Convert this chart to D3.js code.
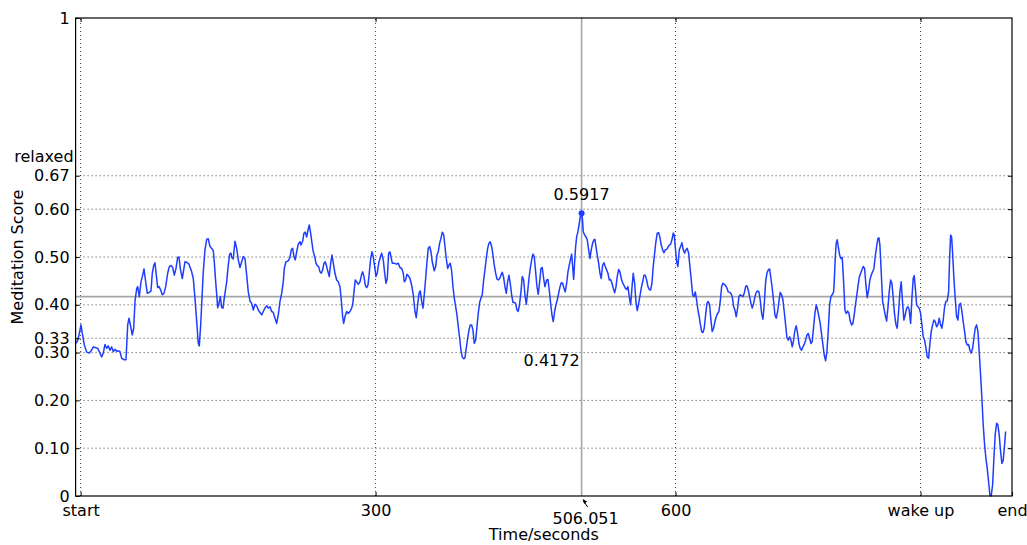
<!DOCTYPE html>
<html>
<head>
<meta charset="utf-8">
<script src="https://cdn.jsdelivr.net/npm/d3@7"></script>
<style>
  html, body { margin: 0; padding: 0; background: #fff; }
  svg { display: block; font-family: "DejaVu Sans", sans-serif; }
  text { fill: #000; }
</style>
</head>
<body>
<svg id="chart" width="1027" height="545"></svg>
<script>
// Meditation score over one session (seconds since start)
const seconds = [
  0.4, 2.1, 3.4, 5.4, 6.7, 8.7, 11.1, 13.4, 15.4, 17.7, 20.1, 22.1, 24.4, 26.1, 27.7, 29.4,
  31.1, 32.7, 34.4, 36.1, 37.7, 39.4, 41.1, 42.7, 44.4, 46.1, 48.7, 50.4, 52.1, 53.4, 55.4,
  56.7, 58.1, 59.4, 61.1, 62.1, 63.7, 65.4, 67.1, 68.4, 70.1, 71.7, 73.7, 75.4, 76.7, 78.1,
  79.4, 80.7, 82.1, 83.4, 84.7, 86.7, 88.4, 90.1, 92.1, 93.7, 95.4, 97.1, 98.7, 100.4, 102.1,
  103.4, 104.7, 106.7, 108.1, 109.4, 111.1, 113.4, 116.1, 117.7, 119.4, 121.1, 122.7, 123.7,
  125.1, 126.4, 127.7, 129.4, 131.1, 132.7, 134.4, 136.1, 137.7, 138.7, 140.1, 141.4, 142.1,
  143.4, 144.7, 146.1, 147.4, 148.7, 151.1, 152.7, 154.1, 155.4,
  156.1, 157.7, 159.4, 161.1, 162.7, 164.4, 166.1, 167.7, 169.4, 171.1, 172.7, 174.4, 176.1,
  177.7, 179.4, 181.1, 182.7, 184.4, 186.1, 187.7, 189.4, 191.1, 192.7, 194.4, 196.1, 197.7,
  199.4, 201.1, 202.7, 204.4, 206.1, 207.7, 208.7, 210.4, 212.7, 214.4, 215.7, 217.1, 218.4,
  219.7, 221.1, 222.7, 224.4, 225.4, 227.1, 228.4, 229.7, 231.1, 232.4, 233.7, 235.1, 236.4,
  237.7, 239.1, 240.4, 241.7, 243.1, 244.4, 245.7, 247.1, 248.4, 249.7, 251.1, 252.4, 253.7,
  255.1, 256.4, 257.7, 259.4, 261.1, 262.7, 264.4, 265.7, 267.1, 268.1, 269.4, 271.1, 272.7,
  274.4, 276.1, 277.1, 278.4, 279.7, 281.1, 282.7, 284.4, 286.1, 287.1, 288.4, 289.7, 291.1,
  292.4, 293.7, 295.1, 296.4, 297.7, 299.1, 300.4, 301.7, 303.1, 304.4, 306.1, 307.7, 309.1,
  310.4, 311.7, 313.1, 314.4,
  316.7, 318.7, 321.1, 322.7, 324.4, 326.1, 327.7, 328.7, 330.1, 331.4, 332.7, 334.4, 336.1,
  337.7, 339.4, 340.7, 342.1, 343.4, 344.7, 346.1, 347.4, 348.7, 350.1, 351.4, 352.7, 354.1,
  355.4, 356.7, 358.7, 360.1, 361.4, 362.7, 364.1, 365.4, 366.7, 368.1, 369.4, 370.7, 372.1,
  373.4, 374.7, 376.1, 377.4, 378.7, 380.1, 381.4, 382.7, 384.1, 385.4, 386.7, 388.1, 389.4,
  390.7, 392.1, 393.4, 394.7, 396.1, 397.4, 398.7, 400.1, 401.4, 402.7, 404.1, 405.4, 406.7,
  408.1, 409.4, 410.7, 412.1, 413.4, 414.7, 416.1, 417.4, 418.7, 420.1, 421.4, 422.7, 424.1,
  425.4, 426.7, 428.1, 429.4, 430.7, 432.1, 433.4, 434.7, 436.1, 437.4, 438.7, 440.1, 441.4,
  442.7, 444.1, 445.4, 446.7, 448.1, 449.4, 450.7, 452.1, 453.4, 454.7, 456.1, 457.4, 458.7,
  460.1, 461.4, 462.7, 464.1, 465.4, 466.7, 468.1, 469.4,
  471.1, 472.4, 473.7, 475.1, 476.4, 477.7, 479.1, 480.4, 481.7, 483.1, 484.4, 485.7, 487.1,
  488.4, 489.7, 491.1, 492.4, 493.7, 495.1, 496.1, 497.1, 498.1, 499.1, 500.1, 501.1, 502.4,
  503.7, 504.7, 506.051, 507.0, 507.7, 509.1, 510.4, 511.7, 513.1, 514.4, 515.7, 517.1, 518.4,
  519.4, 520.4, 521.7, 523.1, 524.4, 525.7, 527.1, 528.4, 529.7, 531.1, 532.4, 533.7, 535.1,
  536.4, 537.7, 539.1, 540.4, 541.7, 543.1, 544.4, 545.7, 547.1, 548.4, 549.7, 551.1, 552.4,
  553.7, 555.1, 556.4, 557.7, 559.1, 560.4, 561.7, 563.1, 564.4, 565.7, 567.1, 568.4, 569.7,
  571.1, 572.4, 573.7, 575.1, 576.4, 577.7, 579.1, 580.4, 581.7, 583.1, 584.4, 585.7, 587.1,
  588.4, 589.7, 591.1, 592.4, 593.7, 595.1, 596.4, 597.7, 598.7, 599.7, 601.1, 602.4, 603.7,
  605.1, 606.4, 607.7, 609.1, 610.4, 611.7, 613.1, 614.4, 615.7, 617.1, 618.4, 619.7, 621.1,
  622.4, 623.7, 624.4,
  624.7, 626.1, 627.4, 628.7, 630.1, 631.4, 632.7, 634.1, 635.4, 636.7, 638.1, 639.4, 640.7,
  642.1, 643.4, 644.7, 646.1, 647.4, 648.7, 650.1, 651.4, 652.7, 654.1, 655.4, 656.7, 658.1,
  659.4, 660.7, 662.1, 663.4, 664.7, 666.1, 667.4, 668.7, 670.1, 671.4, 672.7, 674.1, 675.4,
  676.7, 678.1, 679.4, 680.7, 682.1, 683.4, 684.7, 686.1, 687.4, 688.7, 690.1, 691.4, 692.7,
  694.1, 695.4, 696.7, 698.1, 699.4, 700.7, 702.1, 703.4, 704.7, 706.1, 707.4, 708.7, 710.1,
  711.4, 712.7, 714.1, 715.4, 716.7, 718.1, 719.4, 720.7, 722.1, 723.4, 724.7, 726.1, 727.4,
  728.7, 730.1, 731.4, 732.7, 734.1, 735.4, 736.7, 738.1, 739.4, 740.7, 742.1, 743.4, 744.7,
  746.1, 747.4, 748.7, 750.1, 751.4, 752.7, 754.1, 755.4, 756.7, 758.1, 758.7, 759.7, 760.7,
  761.7, 762.7, 764.1, 765.4, 766.7, 768.1, 769.4, 770.7, 772.1, 773.4, 774.7, 776.1, 777.4,
  778.7,
  779.7, 781.1, 782.4, 783.7, 785.1, 786.4, 787.7, 789.1, 790.4, 791.7, 793.1, 794.4, 795.7,
  797.1, 798.4, 799.7, 801.1, 802.4, 803.4, 804.4, 805.7, 807.1, 808.4, 809.7, 811.1, 812.4,
  813.7, 815.1, 816.4, 817.7, 819.1, 820.4, 821.7, 823.1, 824.4, 825.7, 827.1, 828.4, 829.7,
  831.1, 832.4, 833.7, 835.1, 836.4, 837.7, 838.7, 839.7, 841.1, 842.4, 843.7, 845.1, 846.4,
  847.7, 849.1, 850.4, 851.7, 853.1, 854.4, 855.7, 857.1, 858.4, 859.7, 861.1, 862.4, 863.7,
  865.1, 866.4, 867.7, 869.1, 870.4, 871.7, 873.1, 874.1, 875.1, 876.1, 877.1, 878.4, 879.7,
  881.1, 882.4, 883.7, 885.1, 886.4, 887.7, 889.1, 890.4, 891.7, 893.1, 894.4, 895.7, 897.1,
  898.4, 899.7, 901.1, 902.4, 903.7, 905.1, 906.4, 907.7, 909.1, 910.4, 911.7, 913.1, 914.4,
  915.7, 917.1, 918.4, 919.7, 921.1, 922.4, 923.7, 925.1, 926.4, 927.7, 929.1, 930.1
];

const meditation = [
  0.319, 0.326, 0.337, 0.358, 0.340, 0.316, 0.301, 0.299, 0.303, 0.312, 0.310, 0.309, 0.299, 0.291, 0.299, 0.317,
  0.309, 0.314, 0.305, 0.312, 0.302, 0.307, 0.303, 0.304, 0.302, 0.288, 0.285, 0.285, 0.358, 0.372, 0.351,
  0.337, 0.351, 0.407, 0.434, 0.438, 0.417, 0.448, 0.462, 0.475, 0.448, 0.424, 0.426, 0.429, 0.466, 0.482,
  0.488, 0.462, 0.436, 0.438, 0.433, 0.421, 0.424, 0.438, 0.466, 0.480, 0.482, 0.478, 0.462, 0.476, 0.499,
  0.500, 0.476, 0.455, 0.473, 0.490, 0.489, 0.485, 0.469, 0.455, 0.414, 0.365, 0.319, 0.314,
  0.358, 0.414, 0.469, 0.515, 0.537, 0.538, 0.522, 0.518, 0.513, 0.490, 0.448, 0.414, 0.394,
  0.403, 0.417, 0.394, 0.393, 0.414, 0.448, 0.483, 0.506, 0.508,
  0.499, 0.496, 0.533, 0.518, 0.494, 0.478, 0.490, 0.501, 0.497, 0.462, 0.427, 0.408, 0.403,
  0.389, 0.401, 0.398, 0.389, 0.384, 0.379, 0.386, 0.393, 0.398, 0.393, 0.396, 0.386, 0.384,
  0.372, 0.361, 0.379, 0.407, 0.424, 0.448, 0.476, 0.490, 0.492, 0.499, 0.515, 0.518, 0.501,
  0.494, 0.511, 0.527, 0.532, 0.525, 0.533, 0.550, 0.552, 0.542, 0.556, 0.567, 0.550, 0.529,
  0.511, 0.501, 0.487, 0.482, 0.480, 0.469, 0.466, 0.473, 0.487, 0.490, 0.480, 0.469, 0.459,
  0.487, 0.504, 0.487, 0.466, 0.452, 0.448, 0.438, 0.410, 0.375, 0.361, 0.375, 0.386, 0.382,
  0.386, 0.393, 0.400, 0.427, 0.452, 0.448, 0.443, 0.448, 0.464, 0.469, 0.459, 0.441, 0.436,
  0.441, 0.466, 0.497, 0.511, 0.501, 0.480, 0.459, 0.466, 0.487, 0.497, 0.508, 0.494, 0.466,
  0.445, 0.455, 0.508, 0.511,
  0.487, 0.487, 0.485, 0.487, 0.478, 0.476, 0.466, 0.448, 0.452, 0.464, 0.461, 0.455, 0.441,
  0.421, 0.386, 0.373, 0.400, 0.424, 0.429, 0.407, 0.393, 0.421, 0.455, 0.490, 0.518, 0.522,
  0.511, 0.490, 0.471, 0.480, 0.504, 0.511, 0.529, 0.539, 0.552, 0.547, 0.522, 0.497, 0.476,
  0.483, 0.487, 0.471, 0.438, 0.414, 0.396, 0.379, 0.354, 0.330, 0.305, 0.291, 0.287, 0.289,
  0.309, 0.330, 0.347, 0.358, 0.358, 0.347, 0.319, 0.326, 0.354, 0.382, 0.405, 0.414, 0.421,
  0.452, 0.473, 0.497, 0.518, 0.529, 0.532, 0.522, 0.504, 0.483, 0.466, 0.454, 0.452, 0.455,
  0.462, 0.468, 0.457, 0.438, 0.424, 0.448, 0.462, 0.445, 0.421, 0.405, 0.405, 0.403, 0.389,
  0.386, 0.403, 0.427, 0.459, 0.452, 0.421, 0.401, 0.427, 0.455, 0.476, 0.494, 0.506, 0.501,
  0.469, 0.438, 0.422, 0.448, 0.476, 0.478, 0.455, 0.438,
  0.452, 0.453, 0.431, 0.403, 0.379, 0.365, 0.386, 0.400, 0.410, 0.424, 0.437, 0.446, 0.445,
  0.435, 0.427, 0.445, 0.469, 0.483, 0.497, 0.506, 0.480, 0.453, 0.490, 0.522, 0.542, 0.553,
  0.570, 0.584, 0.5917, 0.577, 0.553, 0.546, 0.542, 0.536, 0.515, 0.497, 0.515, 0.529, 0.536,
  0.537, 0.522, 0.504, 0.487, 0.466, 0.455, 0.483, 0.488, 0.480, 0.473, 0.466, 0.452, 0.453,
  0.445, 0.435, 0.425, 0.437, 0.459, 0.474, 0.469, 0.455, 0.446, 0.441, 0.435, 0.432, 0.438,
  0.417, 0.400, 0.435, 0.466, 0.445, 0.406, 0.388, 0.403, 0.418, 0.435, 0.448, 0.462, 0.462,
  0.452, 0.438, 0.432, 0.431, 0.445, 0.480, 0.508, 0.532, 0.550, 0.551, 0.541, 0.525, 0.515,
  0.509, 0.515, 0.516, 0.520, 0.525, 0.527, 0.536, 0.550, 0.546, 0.522, 0.490, 0.480, 0.515,
  0.522, 0.530, 0.515, 0.508, 0.515, 0.518, 0.508, 0.480, 0.452, 0.421, 0.417, 0.427, 0.410,
  0.389, 0.375, 0.365,
  0.361, 0.344, 0.342, 0.351, 0.379, 0.403, 0.407, 0.400, 0.368, 0.344, 0.351, 0.365, 0.375,
  0.382, 0.386, 0.407, 0.438, 0.445, 0.443, 0.440, 0.435, 0.427, 0.426, 0.424, 0.417, 0.396,
  0.389, 0.375, 0.393, 0.417, 0.421, 0.419, 0.417, 0.424, 0.438, 0.440, 0.431, 0.417, 0.403,
  0.393, 0.403, 0.417, 0.426, 0.429, 0.427, 0.410, 0.382, 0.370, 0.400, 0.448, 0.466, 0.473,
  0.475, 0.455, 0.435, 0.407, 0.379, 0.372, 0.386, 0.407, 0.426, 0.421, 0.410, 0.386, 0.358,
  0.331, 0.326, 0.333, 0.326, 0.312, 0.326, 0.347, 0.356, 0.340, 0.319, 0.309, 0.305, 0.312,
  0.317, 0.326, 0.337, 0.340, 0.330, 0.319, 0.323, 0.354, 0.382, 0.400, 0.389, 0.375, 0.361,
  0.337, 0.316, 0.295, 0.283, 0.302, 0.344, 0.400, 0.417, 0.421, 0.427, 0.448, 0.497, 0.529,
  0.536, 0.522, 0.504, 0.497, 0.499, 0.448, 0.389, 0.382, 0.387, 0.382, 0.366, 0.358, 0.361,
  0.379,
  0.396, 0.417, 0.438, 0.457, 0.466, 0.473, 0.480, 0.476, 0.441, 0.415, 0.431, 0.452, 0.462,
  0.469, 0.476, 0.501, 0.522, 0.539, 0.540, 0.525, 0.469, 0.407, 0.393, 0.379, 0.366, 0.393,
  0.427, 0.452, 0.445, 0.414, 0.379, 0.359, 0.351, 0.386, 0.427, 0.448, 0.403, 0.368, 0.379,
  0.393, 0.396, 0.389, 0.361, 0.414, 0.455, 0.461, 0.438, 0.400, 0.396, 0.393, 0.382, 0.358,
  0.333, 0.326, 0.310, 0.291, 0.288, 0.319, 0.344, 0.358, 0.368, 0.365, 0.354, 0.358, 0.372,
  0.358, 0.351, 0.368, 0.396, 0.407, 0.408, 0.427, 0.497, 0.546, 0.542, 0.508, 0.455, 0.414,
  0.375, 0.368, 0.400, 0.403, 0.386, 0.365, 0.344, 0.323, 0.316, 0.317, 0.305, 0.299, 0.309,
  0.330, 0.351, 0.358, 0.344, 0.302, 0.253, 0.204, 0.149, 0.107, 0.079, 0.058, 0.030, 0.002,
  0.000, 0.023, 0.079, 0.128, 0.152, 0.149, 0.128, 0.093, 0.068, 0.075, 0.107, 0.135
];

// Axis ticks
const yTickValues = [0, 0.10, 0.20, 0.30, 0.33, 0.40, 0.50, 0.60, 0.67, 1];
const yTickLabels = ["0", "0.10", "0.20", "0.30", "0.33", "0.40", "0.50", "0.60", "0.67", "1"];
const yGridValues = [0.10, 0.20, 0.30, 0.33, 0.40, 0.50, 0.60, 0.67];
const relaxedLevel = 0.709;
const relaxedLabel = "relaxed";

const xTickValues = [5, 300, 600, 845, 936.5];
const xTickLabels = ["start", "300", "600", "wake up", "end"];
const xGridValues = [5, 300, 600, 845];

// Session summary
const peakTime = 506.051;
const peakScore = 0.5917;
const meanScore = 0.4172;

const width = 1027, height = 545;
const margin = { left: 75.6, right: 15, top: 18, bottom: 49 };
const x0 = margin.left, x1 = width - margin.right;
const y0 = height - margin.bottom, y1 = margin.top;

const x = d3.scaleLinear().domain([0, 936.5]).range([x0, x1]);
const y = d3.scaleLinear().domain([0, 1]).range([y0, y1]);

const svg = d3.select("#chart");
const font = "16px";

// dotted grid
const grid = svg.append("g").attr("class", "grid");
grid.selectAll("line.gy").data(yGridValues).join("line")
  .attr("x1", x0).attr("x2", x1)
  .attr("y1", d => y(d)).attr("y2", d => y(d))
  .attr("stroke", "#000").attr("stroke-opacity", 0.75)
  .attr("stroke-width", 1).attr("stroke-dasharray", "1,3");
grid.selectAll("line.gx").data(xGridValues).join("line")
  .attr("x1", d => x(d)).attr("x2", d => x(d))
  .attr("y1", y0).attr("y2", y1)
  .attr("stroke", "#000").attr("stroke-opacity", 0.75)
  .attr("stroke-width", 1).attr("stroke-dasharray", "1,3");

// mean level and peak time markers
svg.append("line")
  .attr("x1", x0).attr("x2", x1)
  .attr("y1", y(meanScore)).attr("y2", y(meanScore))
  .attr("stroke", "#a6a6a6").attr("stroke-width", 1.6);
svg.append("line")
  .attr("x1", x(peakTime)).attr("x2", x(peakTime))
  .attr("y1", y0).attr("y2", y1)
  .attr("stroke", "#a6a6a6").attr("stroke-width", 1.6);

// score trace
const series = seconds.map((t, i) => [t, meditation[i]]);
const line = d3.line().x(d => x(d[0])).y(d => y(d[1]));
svg.append("path")
  .datum(series)
  .attr("d", line)
  .attr("fill", "none")
  .attr("stroke", "#1f3dff")
  .attr("stroke-width", 1.5)
  .attr("stroke-linejoin", "round");

svg.append("circle")
  .attr("cx", x(peakTime)).attr("cy", y(peakScore)).attr("r", 3)
  .attr("fill", "#1f3dff");

// frame
svg.append("rect")
  .attr("x", x0).attr("y", y1)
  .attr("width", x1 - x0).attr("height", y0 - y1)
  .attr("fill", "none").attr("stroke", "#000").attr("stroke-width", 1.2);

// axes with inward ticks
const yFmt = d => yTickLabels[yTickValues.indexOf(d)];
const xFmt = d => xTickLabels[xTickValues.indexOf(d)];

function styleAxis(g) {
  g.select(".domain").remove();
  g.selectAll(".tick line").attr("stroke", "#000").attr("stroke-width", 1);
  g.selectAll("text").attr("font-size", font).attr("font-family", "DejaVu Sans").attr("fill", "#000");
}

svg.append("g").attr("transform", `translate(${x0},0)`)
  .call(d3.axisLeft(y).tickValues(yTickValues).tickFormat(yFmt).tickSize(-4).tickPadding(6))
  .call(styleAxis);
svg.append("g").attr("transform", `translate(${x1},0)`)
  .call(d3.axisRight(y).tickValues(yGridValues).tickFormat("").tickSize(-4))
  .call(styleAxis);
svg.append("g").attr("transform", `translate(0,${y0})`)
  .call(d3.axisBottom(x).tickValues(xTickValues).tickFormat(xFmt).tickSize(-4).tickPadding(9))
  .call(styleAxis);
svg.append("g").attr("transform", `translate(0,${y1})`)
  .call(d3.axisTop(x).tickValues(xGridValues).tickFormat("").tickSize(-4))
  .call(styleAxis);

// "relaxed" level label
svg.append("text")
  .attr("x", x0 - 2).attr("y", y(relaxedLevel))
  .attr("dy", "0.32em").attr("text-anchor", "end")
  .attr("font-size", font).text(relaxedLabel);

// annotations
svg.append("text")
  .attr("x", x(peakTime)).attr("y", y(peakScore) - 13)
  .attr("text-anchor", "middle").attr("font-size", font)
  .text(peakScore.toFixed(4));
svg.append("text")
  .attr("x", x(peakTime) - 2).attr("y", y(meanScore) + 69)
  .attr("text-anchor", "end").attr("font-size", font)
  .text(meanScore.toFixed(4));
svg.append("text")
  .attr("x", x(peakTime) + 4).attr("y", y0 + 28)
  .attr("text-anchor", "middle").attr("font-size", font)
  .text(String(peakTime));

// small arrow from the time label up to the axis
const ax = x(peakTime) + 1, ay = y0 + 3;
svg.append("line")
  .attr("x1", ax + 5).attr("y1", ay + 8).attr("x2", ax + 1).attr("y2", ay + 2)
  .attr("stroke", "#000").attr("stroke-width", 1);
svg.append("path")
  .attr("d", `M${ax},${ay} L${ax + 4.5},${ay + 2.5} L${ax + 1.5},${ay + 5} Z`)
  .attr("fill", "#000");

// axis titles
svg.append("text")
  .attr("x", (x0 + x1) / 2).attr("y", 540)
  .attr("text-anchor", "middle").attr("font-size", font)
  .text("Time/seconds");
svg.append("text")
  .attr("transform", `translate(23,${(y0 + y1) / 2}) rotate(-90)`)
  .attr("text-anchor", "middle").attr("font-size", font)
  .text("Meditation Score");
</script>
</body>
</html>
